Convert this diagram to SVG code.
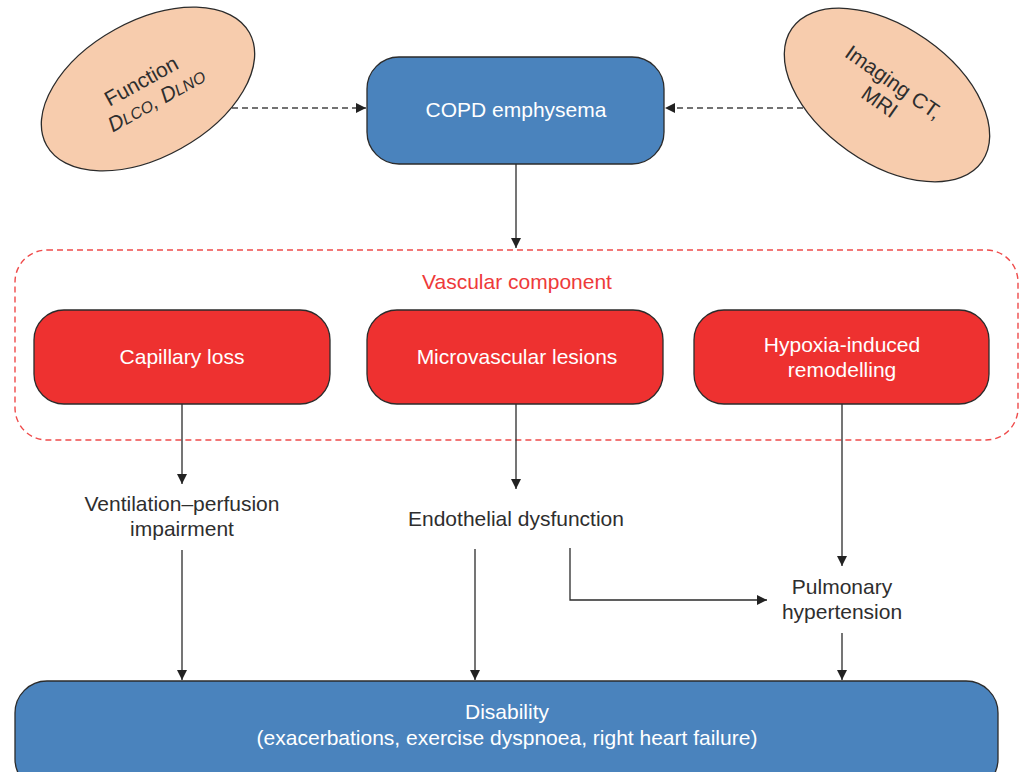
<svg xmlns="http://www.w3.org/2000/svg" width="1025" height="772" viewBox="0 0 1025 772">
<defs>
<style>
text{font-family:"Liberation Sans",Arial,sans-serif;font-size:21px;text-anchor:middle}
.blue{fill:#4a83bd;stroke:#2b2b2b;stroke-width:1.3}
.red{fill:#ee3130;stroke:#2b2b2b;stroke-width:1.3}
.peach{fill:#f7ccad;stroke:#2b2b2b;stroke-width:1.3}
.wt{fill:#ffffff}
.dk{fill:#2e2e2e}
.ln{stroke:#2b2b2b;stroke-width:1.3;fill:none}
.dash{stroke:#444;stroke-width:1.5;stroke-dasharray:6 4;fill:none}
</style>
<marker id="ah" viewBox="0 0 10 10" refX="10" refY="5" markerWidth="10" markerHeight="10" markerUnits="userSpaceOnUse" orient="auto">
<path d="M0,0 L10,5 L0,10 z" fill="#222"/>
</marker>
</defs>
<rect width="1025" height="772" fill="#ffffff"/>

<g id="vascular-group">
<rect x="15" y="250" width="1003" height="190" rx="32" fill="none" stroke="#ef4a4a" stroke-width="1.4" stroke-dasharray="6 4"/>
<text x="517" y="289" fill="#ee3a3a">Vascular component</text>
</g>

<g id="connectors">
<line class="dash" x1="232" y1="108" x2="366" y2="108" marker-end="url(#ah)"/>
<line class="dash" x1="803" y1="108" x2="665" y2="108" marker-end="url(#ah)"/>
<line class="ln" x1="516" y1="164" x2="516" y2="248" marker-end="url(#ah)"/>
<line class="ln" x1="182" y1="404" x2="182" y2="484" marker-end="url(#ah)"/>
<line class="ln" x1="516" y1="404" x2="516" y2="489" marker-end="url(#ah)"/>
<line class="ln" x1="842" y1="404" x2="842" y2="566" marker-end="url(#ah)"/>
<line class="ln" x1="182" y1="550" x2="182" y2="680" marker-end="url(#ah)"/>
<line class="ln" x1="475" y1="549" x2="475" y2="680" marker-end="url(#ah)"/>
<polyline class="ln" points="570,548 570,600 767,600" marker-end="url(#ah)"/>
<line class="ln" x1="842" y1="633" x2="842" y2="680" marker-end="url(#ah)"/>
</g>

<g id="function">
<ellipse class="peach" cx="148" cy="89" rx="116" ry="68" transform="rotate(-29 148 89)"/>
<g transform="rotate(-29 148 89)">
<text class="dk" x="146" y="86">Function</text>
<text class="dk" x="150" y="110" font-style="italic">D<tspan font-size="16">LCO</tspan>, D<tspan font-size="16">LNO</tspan></text>
</g>
</g>

<g id="imaging">
<ellipse class="peach" cx="887" cy="95" rx="116" ry="68" transform="rotate(35 887 95)"/>
<g transform="rotate(35 887 95)">
<text class="dk" x="885" y="88">Imaging CT,</text>
<text class="dk" x="885" y="112">MRI</text>
</g>
</g>

<g id="copd">
<rect class="blue" x="367" y="57" width="297" height="107" rx="32"/>
<text class="wt" x="516" y="117">COPD emphysema</text>
</g>

<g id="capillary">
<rect class="red" x="34" y="310" width="296" height="94" rx="30"/>
<text class="wt" x="182" y="364">Capillary loss</text>
</g>

<g id="microvascular">
<rect class="red" x="367" y="310" width="296" height="94" rx="30"/>
<text class="wt" x="517" y="364">Microvascular lesions</text>
</g>

<g id="hypoxia">
<rect class="red" x="694" y="310" width="295" height="94" rx="30"/>
<text class="wt" x="842" y="352">Hypoxia-induced</text>
<text class="wt" x="842" y="377">remodelling</text>
</g>

<g id="vq">
<text class="dk" x="182" y="511">Ventilation–perfusion</text>
<text class="dk" x="182" y="536">impairment</text>
</g>

<g id="endothelial">
<text class="dk" x="516" y="526">Endothelial dysfunction</text>
</g>

<g id="ph">
<text class="dk" x="842" y="594">Pulmonary</text>
<text class="dk" x="842" y="619">hypertension</text>
</g>

<g id="disability">
<rect class="blue" x="15" y="681" width="983" height="110" rx="32"/>
<text class="wt" x="507" y="719">Disability</text>
<text class="wt" x="507" y="745">(exacerbations, exercise dyspnoea, right heart failure)</text>
</g>
</svg>
